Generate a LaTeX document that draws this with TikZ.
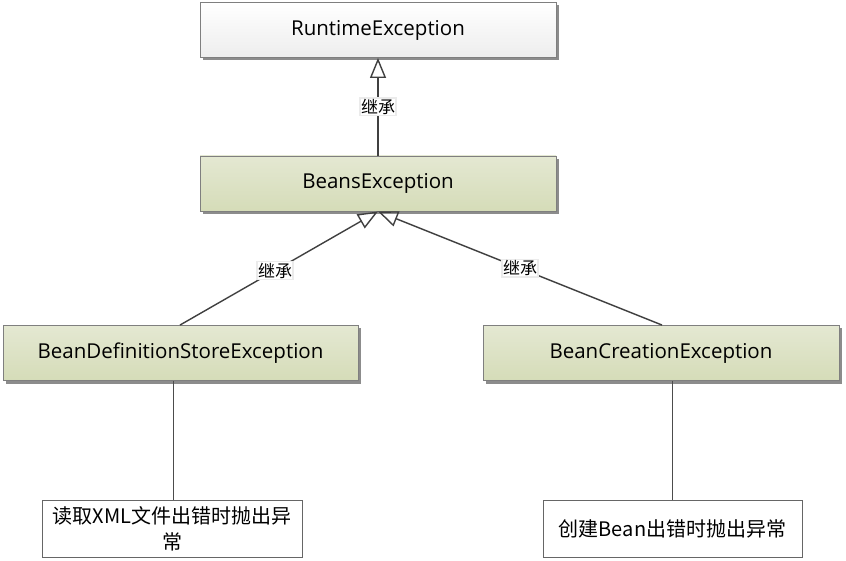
\documentclass[tikz,border=0pt]{standalone}
\usepackage{fontspec}
\setmainfont{Open Sans}
\newfontfamily\cjk{Noto Sans CJK SC}
\usetikzlibrary{arrows.meta,shadows}
\definecolor{edgegray}{HTML}{7F7F7F}
\definecolor{linegray}{HTML}{404040}
\definecolor{greentop}{HTML}{E4E8D2}
\definecolor{greenbot}{HTML}{D5DCB8}
\tikzset{
  cls/.style={draw=edgegray, line width=0.9pt, minimum height=55pt, inner sep=0pt,
    font=\fontsize{20.5}{24}\selectfont,
    drop shadow={shadow xshift=3pt, shadow yshift=-3pt, fill=black!45, opacity=1}},
  clswhite/.style={cls, top color=white, bottom color=black!7},
  clsgreen/.style={cls, top color=greentop, bottom color=greenbot},
  note/.style={draw=black!60, line width=0.6pt, fill=white, minimum width=260pt, minimum height=57pt,
    inner sep=2pt, align=center, font=\cjk\fontsize{20}{26}\selectfont},
  inherit/.style={draw=linegray, line width=1.4pt, -{Triangle[open, length=20pt, width=16pt, line width=1.4pt]}},
  lbl/.style={fill=white, draw=black!8, inner sep=1pt, font=\cjk\fontsize{17}{19}\selectfont},
  thin/.style={draw=black!70, line width=0.6pt}
}
\begin{document}
\begin{tikzpicture}[x=1pt,y=-1pt]
\useasboundingbox (0,0) rectangle (846,561);
\node[clswhite, minimum width=356pt] (rt) at (378,30) {RuntimeException};
\node[clsgreen, minimum width=356pt] (be) at (378,183.5) {BeansException};
\node[clsgreen, minimum width=355pt] (bd) at (180.5,353) {BeanDefinitionStoreException};
\node[clsgreen, minimum width=356pt] (bc) at (661,353) {BeanCreationException};
\node[note] (n1) at (172,528.5) {读取XML文件出错时抛出异\\常};
\node[note, minimum width=259pt] (n2) at (672.5,528.5) {创建Bean出错时抛出异常};
\coordinate (beBot) at (be.south);
\draw[inherit] (be.north) -- node[lbl] {继承} (rt.south);
\draw[inherit] (bd.north -| 180,0) -- node[lbl, pos=0.48] {继承} (beBot);
\draw[inherit] (bc.north -| 662,0) -- node[lbl, pos=0.5] {继承} (beBot);
\draw[thin] (bd.south -| 173,0) -- (n1.north -| 173,0);
\draw[thin] (bc.south -| 672,0) -- (n2.north -| 672,0);
\end{tikzpicture}
\end{document}
